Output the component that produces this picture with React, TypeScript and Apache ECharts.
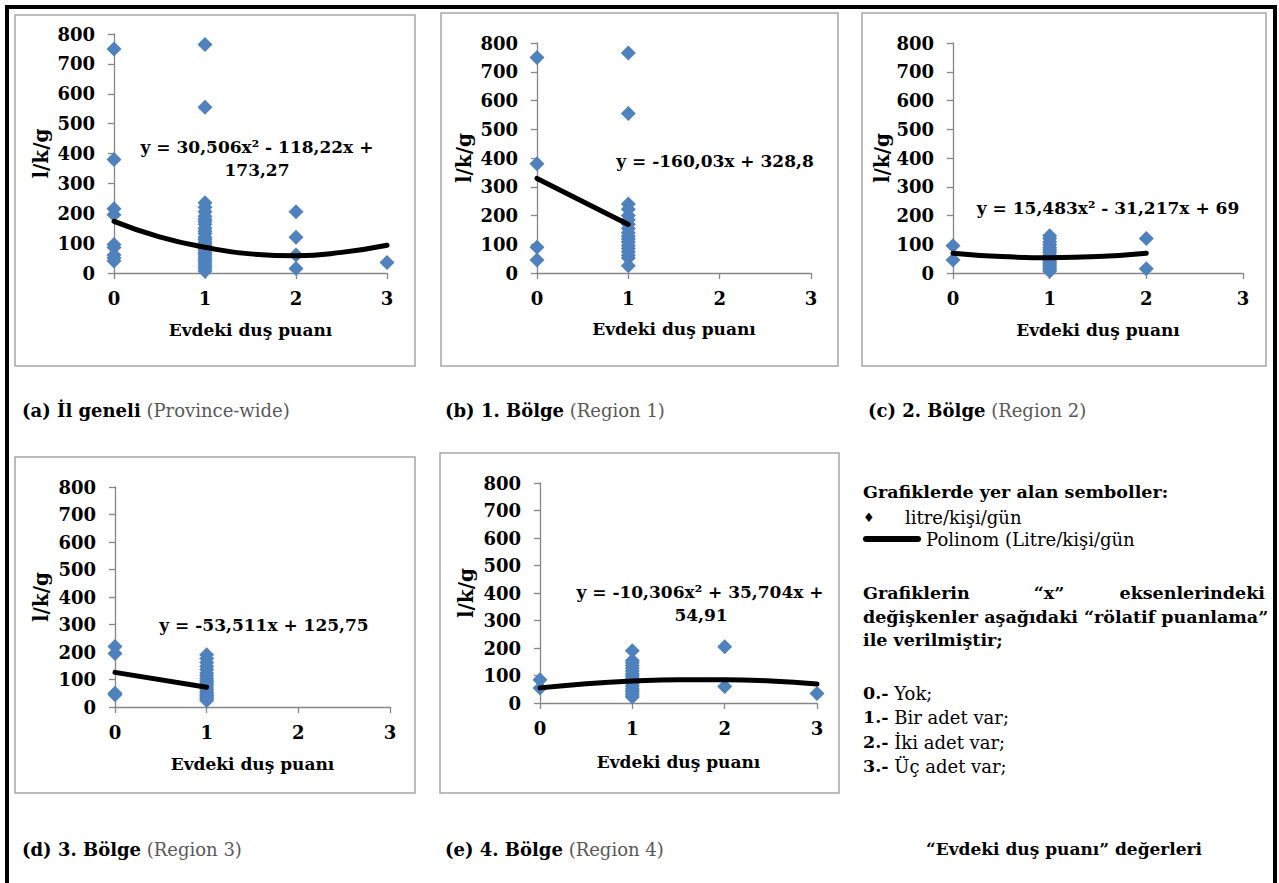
import React, { useEffect, useRef } from "react";
import * as echarts from "echarts";

// ---- Data ----
const xTicks = [0, 1, 2, 3];
const xName = "Evdeki duş puanı";
const yName = "l/k/g";

// (a) İl geneli
const aAt0 = [750, 380, 215, 195, 95, 85, 60, 50, 40];
const aAt1 = [765, 555, 235, 220, 205, 190, 180, 172, 163, 150, 141, 132, 120, 112, 104, 97, 90, 82, 75, 68, 61, 53, 46, 38, 30, 22, 14, 6];
const aAt2 = [205, 120, 60, 15];
const aAt3 = [35];
const aTrend = [[0, 173], [0.5, 121], [1, 86], [1.5, 64], [2, 58], [2.5, 69], [3, 93]];
const aEq = ["y = 30,506x² - 118,22x +", "173,27"];

// (b) 1. Bölge
const bAt0 = [750, 380, 90, 45];
const bAt1 = [765, 555, 240, 222, 200, 185, 170, 155, 140, 128, 118, 108, 96, 85, 74, 62, 52, 25];
const bTrend = [[0, 329], [1, 169]];
const bEq = ["y = -160,03x + 328,8"];

// (c) 2. Bölge
const cAt0 = [95, 45];
const cAt1 = [130, 120, 108, 98, 88, 80, 72, 63, 56, 49, 42, 35, 28, 21, 14, 6];
const cAt2 = [120, 15];
const cTrend = [[0, 69], [0.5, 57], [1, 53], [1.5, 57], [2, 69]];
const cEq = ["y = 15,483x² - 31,217x + 69"];

// (d) 3. Bölge
const dAt0 = [220, 195, 50, 45];
const dAt1 = [190, 176, 162, 148, 136, 124, 114, 104, 95, 87, 79, 70, 63, 55, 48, 42, 36, 30, 24];
const dTrend = [[0, 126], [1, 72]];
const dEq = ["y = -53,511x + 125,75"];

// (e) 4. Bölge
const eAt0 = [85, 55];
const eAt1 = [190, 155, 146, 136, 126, 116, 106, 98, 89, 80, 71, 62, 53, 45, 38, 30, 22];
const eAt2 = [205, 60];
const eAt3 = [35];
const eTrend = [[0, 55], [0.5, 70], [1, 80], [1.5, 85], [2, 85], [2.5, 80], [3, 69]];
const eEq = ["y = -10,306x² + 35,704x +", "54,91"];

const captionsBold = ["(a) İl geneli", "(b) 1. Bölge", "(c) 2. Bölge", "(d) 3. Bölge", "(e) 4. Bölge"];
const captionsGray = ["(Province-wide)", "(Region 1)", "(Region 2)", "(Region 3)", "(Region 4)"];

const FONT = "'DejaVu Serif', serif";
const BLUE = "#4F81BD";
const AXIS_GRAY = "#868686";

function pts(vals: number[], x: number) {
  return vals.map((v) => [x, v]);
}

export default function App() {
  const ref = useRef<HTMLDivElement>(null);

  useEffect(() => {
    if (!ref.current) return;
    document.body.style.margin = "0";
    const chart = echarts.init(ref.current, undefined, { renderer: "svg" });

    const grids = [
      { left: 114, top: 34, width: 273, height: 239 },
      { left: 537, top: 43, width: 274, height: 230 },
      { left: 953, top: 43, width: 290, height: 230 },
      { left: 115, top: 487, width: 275, height: 220 },
      { left: 540, top: 483, width: 277, height: 220 },
    ];
    const yNameGaps = [63, 63, 61, 64, 64];
    const xNameGaps = [48, 47, 48, 48, 50];

    const panelPoints = [
      [...pts(aAt0, 0), ...pts(aAt1, 1), ...pts(aAt2, 2), ...pts(aAt3, 3)],
      [...pts(bAt0, 0), ...pts(bAt1, 1)],
      [...pts(cAt0, 0), ...pts(cAt1, 1), ...pts(cAt2, 2)],
      [...pts(dAt0, 0), ...pts(dAt1, 1)],
      [...pts(eAt0, 0), ...pts(eAt1, 1), ...pts(eAt2, 2), ...pts(eAt3, 3)],
    ];
    const trends = [aTrend, bTrend, cTrend, dTrend, eTrend];

    const labelStyle = { color: "#000", fontWeight: "bold" as const, fontSize: 18, fontFamily: FONT };

    const xAxes = grids.map((_, i) => ({
      type: "value" as const,
      gridIndex: i,
      min: xTicks[0],
      max: xTicks[xTicks.length - 1],
      interval: 1,
      splitLine: { show: false },
      axisLine: { lineStyle: { color: AXIS_GRAY, width: 1.3 } },
      axisTick: { show: true, length: 6, lineStyle: { color: AXIS_GRAY, width: 1.3 } },
      axisLabel: { ...labelStyle, margin: 16 },
      name: xName,
      nameLocation: "middle" as const,
      nameGap: xNameGaps[i],
      nameTextStyle: { ...labelStyle, fontSize: 17 },
    }));
    const yAxes = grids.map((_, i) => ({
      type: "value" as const,
      gridIndex: i,
      min: 0,
      max: 800,
      interval: 100,
      splitLine: { show: false },
      axisLine: { show: true, lineStyle: { color: AXIS_GRAY, width: 1.3 } },
      axisTick: { show: true, length: 6, lineStyle: { color: AXIS_GRAY, width: 1.3 } },
      axisLabel: { ...labelStyle, margin: 19 },
      name: yName,
      nameLocation: "middle" as const,
      nameGap: yNameGaps[i],
      nameRotate: 90,
      nameTextStyle: { ...labelStyle, fontSize: 20 },
    }));

    const series: any[] = [];
    panelPoints.forEach((p, i) => {
      series.push({
        type: "scatter",
        xAxisIndex: i,
        yAxisIndex: i,
        data: p,
        symbol: "diamond",
        symbolSize: 15,
        itemStyle: { color: BLUE, opacity: 1 },
        z: 2,
      });
      series.push({
        type: "line",
        xAxisIndex: i,
        yAxisIndex: i,
        data: trends[i],
        smooth: true,
        showSymbol: false,
        symbol: "none",
        lineStyle: { color: "#000", width: 5, cap: "round" },
        z: 3,
      });
    });

    const boxes = [
      [15, 15, 400, 351],
      [441, 13, 397, 353],
      [862, 13, 404, 353],
      [15, 457, 400, 336],
      [440, 453, 399, 340],
    ];

    const txt = (text: string, x: number, y: number, opts: any = {}) => ({
      type: "text",
      silent: true,
      style: {
        text,
        x,
        y,
        font: opts.font || `bold 17px ${FONT}`,
        fill: opts.fill || "#000",
        textAlign: opts.align || "left",
        align: opts.align || "left",
        textVerticalAlign: "middle",
        verticalAlign: "middle",
        rich: opts.rich,
      },
      z: 10,
    });

    const eqFont = `bold 17px ${FONT}`;
    const capFont = `18px ${FONT}`;
    const capRich = {
      b: { fontFamily: FONT, fontSize: 18, fontWeight: "bold", fill: "#000", color: "#000" },
      g: { fontFamily: FONT, fontSize: 18, fill: "#595959", color: "#595959" },
    };
    const capPos = [
      [22, 410],
      [445, 410],
      [868, 410],
      [22, 849],
      [445, 849],
    ];
    const legFont = `18px ${FONT}`;
    const legBold = `bold 17.5px ${FONT}`;
    const numRich = {
      b: { fontFamily: FONT, fontSize: 17.5, fontWeight: "bold" },
      r: { fontFamily: FONT, fontSize: 18 },
    };

    const graphic: any[] = [
      {
        type: "rect",
        silent: true,
        shape: { x: 7, y: 7, width: 1268, height: 1000 },
        style: { fill: "none", stroke: "#000", lineWidth: 4 },
      },
      ...boxes.map((b) => ({
        type: "rect",
        silent: true,
        shape: { x: b[0], y: b[1], width: b[2], height: b[3] },
        style: { fill: "none", stroke: "#A6A6A6", lineWidth: 1.5 },
      })),
      txt(aEq[0], 257, 147, { font: eqFont, align: "center" }),
      txt(aEq[1], 257, 170, { font: eqFont, align: "center" }),
      txt(bEq[0], 715, 161, { font: eqFont, align: "center" }),
      txt(cEq[0], 1108, 208, { font: eqFont, align: "center" }),
      txt(dEq[0], 264, 625, { font: eqFont, align: "center" }),
      txt(eEq[0], 700, 592, { font: eqFont, align: "center" }),
      txt(eEq[1], 701, 615, { font: eqFont, align: "center" }),
      ...capPos.map((p, i) =>
        txt(`{b|${captionsBold[i]}} {g|${captionsGray[i]}}`, p[0], p[1], { font: capFont, rich: capRich })
      ),
      txt("“Evdeki duş puanı” değerleri", 1064, 849, { font: `bold 17px ${FONT}`, align: "center" }),
      // legend block
      txt("Grafiklerde yer alan semboller:", 863, 492, { font: legBold }),
      txt("♦", 863, 517, { font: `13px ${FONT}` }),
      txt("litre/kişi/gün", 905, 517, { font: legFont }),
      {
        type: "line",
        silent: true,
        shape: { x1: 866, y1: 539, x2: 918, y2: 539 },
        style: { stroke: "#000", lineWidth: 6, lineCap: "round" },
      },
      txt("Polinom (Litre/kişi/gün", 926, 539, { font: legFont }),
      txt("Grafiklerin", 863, 593, { font: legBold }),
      txt("“x”", 1049, 593, { font: legBold, align: "center" }),
      txt("eksenlerindeki", 1265, 593, { font: legBold, align: "right" }),
      txt("değişkenler aşağıdaki “rölatif puanlama”", 863, 617, { font: legBold }),
      txt("ile verilmiştir;", 863, 640, { font: legBold }),
      txt("{b|0.-} {r|Yok;}", 863, 693, { font: legFont, rich: numRich }),
      txt("{b|1.-} {r|Bir adet var;}", 863, 717, { font: legFont, rich: numRich }),
      txt("{b|2.-} {r|İki adet var;}", 863, 742, { font: legFont, rich: numRich }),
      txt("{b|3.-} {r|Üç adet var;}", 863, 766, { font: legFont, rich: numRich }),
    ];

    chart.setOption({
      animation: false,
      backgroundColor: "#fff",
      grid: grids,
      xAxis: xAxes,
      yAxis: yAxes,
      series,
      graphic,
    });

    return () => chart.dispose();
  }, []);

  return (
    <div
      ref={ref}
      style={{ position: "absolute", left: 0, top: 0, width: 1279, height: 883 }}
    />
  );
}
